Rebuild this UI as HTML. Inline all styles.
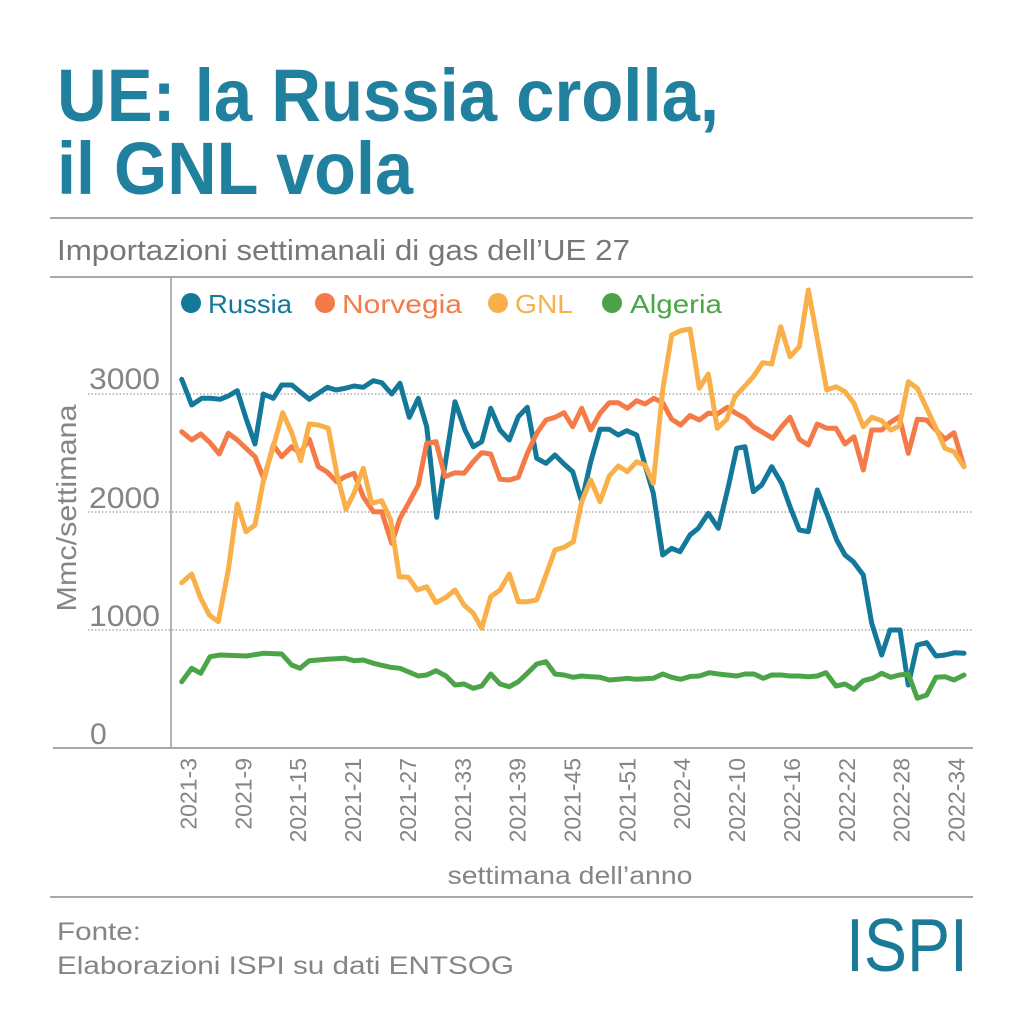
<!DOCTYPE html>
<html>
<head>
<meta charset="utf-8">
<style>
  html, body { margin: 0; padding: 0; background: #ffffff; }
  svg { display: block; }
  text { font-family: "Liberation Sans", "DejaVu Sans", sans-serif; }
</style>
</head>
<body>
<svg width="1024" height="1024" viewBox="0 0 1024 1024" xmlns="http://www.w3.org/2000/svg">
  <rect x="0" y="0" width="1024" height="1024" fill="#ffffff"/>

  <!-- Title -->
  <text x="57" y="121" font-size="74" font-weight="bold" fill="#20809e" textLength="662" lengthAdjust="spacingAndGlyphs">UE: la Russia crolla,</text>
  <text x="57" y="194" font-size="74" font-weight="bold" fill="#20809e" textLength="356" lengthAdjust="spacingAndGlyphs">il GNL vola</text>

  <line x1="50" y1="218" x2="973" y2="218" stroke="#a8a8a8" stroke-width="2"/>
  <text x="57" y="260" font-size="29" fill="#777777" textLength="573" lengthAdjust="spacingAndGlyphs">Importazioni settimanali di gas dell’UE 27</text>
  <line x1="50" y1="277" x2="973" y2="277" stroke="#a8a8a8" stroke-width="2"/>

  <!-- Gridlines -->
  <g stroke="#9a9a9a" stroke-width="1.2" stroke-dasharray="1.5 2">
    <line x1="88" y1="394" x2="973" y2="394"/>
    <line x1="88" y1="512" x2="973" y2="512"/>
    <line x1="88" y1="630" x2="973" y2="630"/>
  </g>

  <!-- Axes -->
  <line x1="171" y1="277" x2="171" y2="748" stroke="#9a9a9a" stroke-width="1.5"/>
  <line x1="53" y1="748" x2="973" y2="748" stroke="#a8a8a8" stroke-width="2"/>

  <!-- Y labels -->
  <g font-size="30" fill="#858585">
    <text x="89" y="389" textLength="71" lengthAdjust="spacingAndGlyphs">3000</text>
    <text x="89" y="508" textLength="71" lengthAdjust="spacingAndGlyphs">2000</text>
    <text x="89" y="626" textLength="71" lengthAdjust="spacingAndGlyphs">1000</text>
    <text x="90" y="744">0</text>
  </g>
  <text transform="translate(76,508) rotate(-90)" text-anchor="middle" font-size="28" fill="#858585" textLength="207" lengthAdjust="spacingAndGlyphs">Mmc/settimana</text>

  <!-- Legend -->
  <circle cx="191" cy="303" r="10" fill="#14789a"/>
  <text x="208" y="313" font-size="26" fill="#14789a" textLength="84" lengthAdjust="spacingAndGlyphs">Russia</text>
  <circle cx="325" cy="303" r="10" fill="#f47b48"/>
  <text x="342" y="313" font-size="26" fill="#f47b48" textLength="120" lengthAdjust="spacingAndGlyphs">Norvegia</text>
  <circle cx="498" cy="303" r="10" fill="#f9b04a"/>
  <text x="515" y="313" font-size="26" fill="#f9b04a" textLength="58" lengthAdjust="spacingAndGlyphs">GNL</text>
  <circle cx="612" cy="303" r="10" fill="#4ba548"/>
  <text x="630" y="313" font-size="26" fill="#4ba548" textLength="92" lengthAdjust="spacingAndGlyphs">Algeria</text>

  <!-- Series -->
  <g fill="none" stroke-width="5" stroke-linejoin="round" stroke-linecap="round">
    <polyline stroke="#14789a" points="181.7,379.3 191.7,405 201.7,398.3 210,398.3 220,399.3 228.3,396 237.3,390.7 246,418.3 255,444 263.3,394 273.3,398.3 281.7,385 291.7,385 300,391.7 309.3,399.3 318.3,393.3 327.3,387.3 336,390 345,388.3 354,386 363.3,387.3 373.3,380.7 381.7,382.7 391.7,394 400,383.3 409.3,417.3 418.3,398.3 426.7,426.7 436.7,517.3 455,401.7 465,430 473.3,446.7 481.7,441.7 490.7,408.3 500,430 509.3,440 518.3,416.7 527.3,407.3 536.7,458.3 546,463.3 555,455 564,464 572.7,471.7 581.7,501.7 590.7,461.7 600,429.3 609.3,429.3 618.3,435 626.7,430.7 636.7,435 645,465 653.3,493.3 662.7,555 671.7,548.3 680,551.7 690,535 698.3,528.3 708.3,513.3 718.3,528.3 728.3,486.7 736.7,448.3 745,446.7 753.3,491.7 761.7,485 771.7,466.7 781.7,483.3 790,506.7 799.3,530 808.3,531.7 817.3,490 826.7,513.3 836.7,540 845,555 853.3,561.7 863.3,575 871.7,623.3 881.7,655 890,630 900,630 908.3,685 917.3,645 926.7,642.7 936,656 945,655 955,652.7 964,653.3"/>
    <polyline stroke="#f47b48" points="181.7,431.7 191.7,440 200.7,434 210,442.7 219.3,454 228.3,433.3 237.3,440 246,448.3 255,456.7 264,479.3 273.3,445 281.7,456.7 291.7,446.7 300,453.3 309.3,439.3 318.3,466.7 326.7,471.7 336.7,481.7 345,476.7 354,473.3 363.3,496.7 373.3,511.7 381.7,511.7 391.7,543.3 400,518.3 409.3,501.7 418.3,485 426.7,443.3 436,441.7 445,476.7 455,472.7 464,473.3 473.3,461.7 481.7,452.7 490.7,454 500,479.3 509.3,480 518.3,477.3 527.3,453.3 536.7,433.3 546,420 555,417.3 564,412.7 572.7,426.7 581.7,408.3 590.7,430 600,413.3 609.3,402.7 618.3,402.7 627.3,408.3 636.7,400.7 645,404 654,398.3 662.7,402.7 671.7,419.3 680.7,425 690,415.5 699.3,420 708.3,413.3 717.3,414 727.3,407.3 735,412.7 745,418.3 753.3,426.7 763.3,432.7 772.7,438.3 781.7,426.7 790,417.3 799.3,439.3 808.3,445 817.3,424 826.7,428.3 836,428.3 845,444 854,436.7 863.3,470 871.7,430 881.7,430 890,422.7 899.3,416.7 908.3,453.3 917.3,419.3 926.7,420 936,430 945,439.3 954,432.7 964,466.7"/>
    <polyline stroke="#f9b04a" points="181.7,582.7 191.7,574 200,596.7 209.3,615 218.3,621.7 228.3,570 237.3,504 246,531.7 255,525 264,477.3 273.3,446.7 282.7,412.7 291.7,432.7 300.7,460.7 309.3,424 318.3,425 328.3,428.3 336.7,473.3 346,509.3 354,493.3 363.3,468.3 371.7,503.3 381.7,500.7 390.7,520 399.3,576.7 408.3,577.3 417.3,590 426.7,586.7 436,602.7 446,597.3 455,590 464,605 473.3,613.3 481.7,628.3 490.7,596.7 500,590 509.3,574 518.3,601.7 527.3,601.7 536.7,600 546,575 555,550 564,547.3 573.3,541.7 581.7,501.7 590.7,480 600,501.7 609.3,476 618.3,466 627.3,471.7 636.7,461.7 645,465 653.3,483.3 662.7,390 671.7,335 680.7,330.7 690,329 699.3,388.3 708.3,374 717.3,428.3 726.7,419.3 735,396.7 745,386 753.3,376.7 762.7,362.7 771.7,364 780.7,326.7 790,356.7 799.3,346.7 808.3,290 817.3,338.3 826.7,390 836,386.7 845,391.7 854,403.3 863.3,426.7 871.7,417.3 881.7,420.7 890.7,430 899.3,426 908.3,381.7 917.3,388.3 926.7,408.3 936,428.3 945,448.3 954,451.7 964,466.7"/>
    <polyline stroke="#4ba548" points="181.7,681.7 191.7,668.3 200.7,673.3 210,656.7 220,655 246.7,656 263.3,653.3 281.7,654 291.7,665 300,668.3 309.3,660.7 326.7,659.3 345,658.3 354,660.7 363.3,660 373.3,663.3 390.7,667.3 400,668.3 418.3,676 426.7,675 436,670.7 446,676 455,685 464,684 473.3,688.3 481.7,686 490.7,674 500,684 509.3,686.7 518.3,681.7 527.3,673.3 536.7,664 546,661.7 555,674 564,675 573.3,677.3 581.7,676 590.7,676.7 600,677.3 609.3,680 618.3,679.3 627.3,678.3 636.7,679.3 653.3,678.3 662.7,674 671.7,677.3 680.7,679.3 690,676.5 699.3,676 709.3,672.7 718.3,674 727.3,675 736.7,676 745,674 754,674 763.3,678.3 771.7,675 781.7,675 790,676 799.3,676 808.3,676.7 817.3,676 826,672.7 836,686 845,684 854,689.3 863.3,680.7 872.7,678.3 881.7,673.3 890.7,677.3 899.3,675 908.3,674 917.3,698.3 926.7,695 936,677.3 945,676.7 954,680 964,675"/>
  </g>

  <!-- X tick labels -->
  <g font-size="23" fill="#858585" text-anchor="end">
    <text transform="translate(196.5,758) rotate(-90)">2021-3</text>
    <text transform="translate(251.4,758) rotate(-90)">2021-9</text>
    <text transform="translate(306.2,758) rotate(-90)">2021-15</text>
    <text transform="translate(361.1,758) rotate(-90)">2021-21</text>
    <text transform="translate(415.9,758) rotate(-90)">2021-27</text>
    <text transform="translate(470.8,758) rotate(-90)">2021-33</text>
    <text transform="translate(525.7,758) rotate(-90)">2021-39</text>
    <text transform="translate(580.5,758) rotate(-90)">2021-45</text>
    <text transform="translate(635.4,758) rotate(-90)">2021-51</text>
    <text transform="translate(690.2,758) rotate(-90)">2022-4</text>
    <text transform="translate(745.1,758) rotate(-90)">2022-10</text>
    <text transform="translate(799.9,758) rotate(-90)">2022-16</text>
    <text transform="translate(854.8,758) rotate(-90)">2022-22</text>
    <text transform="translate(909.7,758) rotate(-90)">2022-28</text>
    <text transform="translate(964.5,758) rotate(-90)">2022-34</text>
  </g>

  <text x="570" y="884" text-anchor="middle" font-size="25" fill="#858585" textLength="245" lengthAdjust="spacingAndGlyphs">settimana dell’anno</text>

  <line x1="50" y1="897" x2="973" y2="897" stroke="#a8a8a8" stroke-width="2"/>

  <!-- Footer -->
  <text x="57" y="940" font-size="25" fill="#858585" textLength="84" lengthAdjust="spacingAndGlyphs">Fonte:</text>
  <text x="57" y="974" font-size="25" fill="#858585" textLength="457" lengthAdjust="spacingAndGlyphs">Elaborazioni ISPI su dati ENTSOG</text>

  <!-- ISPI logo -->
  <text x="846" y="971" font-size="75" fill="#1a7a98" textLength="122" lengthAdjust="spacingAndGlyphs">ISPI</text>
</svg>
</body>
</html>
